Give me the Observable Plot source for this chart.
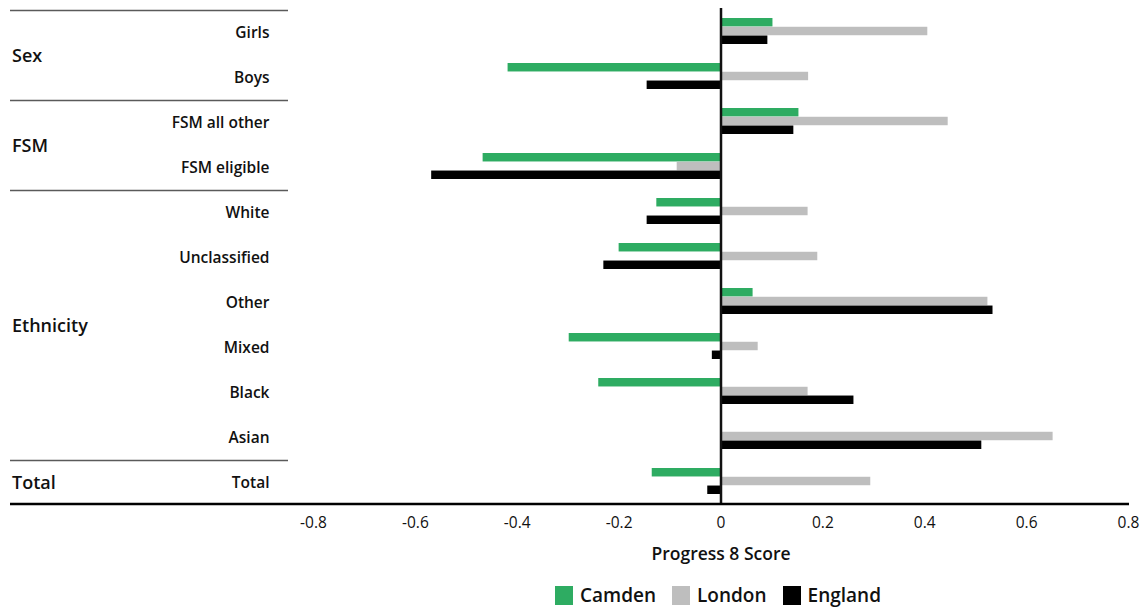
<!DOCTYPE html>
<html>
<head>
<meta charset="utf-8">
<script src="https://cdn.jsdelivr.net/npm/d3@7"></script>
<script src="https://cdn.jsdelivr.net/npm/@observablehq/plot@0.6"></script>
<style>
  html, body { margin: 0; padding: 0; background: #fff; }
  body { width: 1148px; height: 610px; overflow: hidden; font-family: "Open Sans", "Lato", sans-serif; color: #111; }
  #legend { display: flex; align-items: center; margin-left: 555px; margin-top: 16px; font-size: 19px; font-weight: 600; line-height: 19px; }
  #legend .sw { width: 18px; height: 19px; margin-right: 7px; }
  #legend .item { display: flex; align-items: center; margin-right: 16px; }
</style>
</head>
<body>
<div id="chart"></div>
<div id="legend"></div>
<script>
// ---- data ----
const categories = ["Girls", "Boys", "FSM all other", "FSM eligible", "White", "Unclassified", "Other", "Mixed", "Black", "Asian", "Total"];
const camden  = [0.102, -0.418, 0.153, -0.467, -0.126, -0.200, 0.063, -0.298, -0.240, 0.000, -0.135];
const london  = [0.406, 0.172, 0.446, -0.086, 0.171, 0.190, 0.524, 0.073, 0.171, 0.652, 0.294];
const england = [0.092, -0.145, 0.143, -0.568, -0.145, -0.230, 0.534, -0.017, 0.261, 0.512, -0.026];
const groupNames = ["Sex", "FSM", "Ethnicity", "Total"];
const groupMembers = [["Girls", "Boys"], ["FSM all other", "FSM eligible"], ["White", "Unclassified", "Other", "Mixed", "Black", "Asian"], ["Total"]];
const seriesNames = ["Camden", "London", "England"];
const seriesColors = ["#2eac62", "#bebebe", "#000000"];
const xTicks = [-0.8, -0.6, -0.4, -0.2, 0, 0.2, 0.4, 0.6, 0.8];
const xTitle = "Progress 8 Score";

const rows = categories.map((c, i) => ({category: c, Camden: camden[i], London: london[i], England: england[i]}));
const groups = groupNames.map((g, i) => ({name: g, members: groupMembers[i]}));

const bw = 26.3; // band height (px), split among the three series
const third = bw / 3;
const fmt = d => d === 0 ? "0" : d.toFixed(1);

function groupDecor(index, scales, values, dims) {
  const y = scales.y;
  const step = y.step(), b = y.bandwidth();
  const g = d3.create("svg:g");
  groups.forEach(gr => {
    const centers = gr.members.map(m => y(m) + b / 2);
    const top = y(gr.members[0]) + b / 2 - step / 2 + 2;
    g.append("line")
      .attr("x1", 10).attr("x2", 288)
      .attr("y1", top).attr("y2", top)
      .attr("stroke", "#5a5a5a").attr("stroke-width", 1.5);
    g.append("text")
      .attr("x", 12).attr("y", d3.mean(centers))
      .attr("dy", "0.45em")
      .attr("text-anchor", "start")
      .attr("font-size", 18).attr("font-weight", 600)
      .attr("fill", "#111")
      .text(gr.name);
  });
  return g.node();
}

const fontFamily = '"Open Sans", "Lato", sans-serif';

const chart = Plot.plot({
  width: 1148,
  height: 570,
  marginLeft: 313,
  marginRight: 20,
  marginTop: 8,
  marginBottom: 66,
  style: {fontFamily, fontSize: "15px", color: "#111", background: "#fff"},
  x: {domain: [-0.8, 0.8], ticks: xTicks, tickFormat: fmt},
  y: {domain: categories, paddingInner: 0.416, paddingOuter: 0.215},
  marks: [
    Plot.barX(rows, {y: "category", x: "Camden", fill: seriesColors[0], insetBottom: 2 * third}),
    Plot.barX(rows, {y: "category", x: "London", fill: seriesColors[1], insetTop: third, insetBottom: third}),
    Plot.barX(rows, {y: "category", x: "England", fill: seriesColors[2], insetTop: 2 * third}),
    Plot.ruleX([0], {stroke: "#111", strokeWidth: 2.5}),
    Plot.axisY({tickSize: 0, tickPadding: 44, label: null, fontSize: 15.5, fontWeight: 600, dy: 2, fill: "#111"}),
    Plot.axisX({ticks: xTicks, tickSize: 0, tickPadding: 12, label: null, fontSize: 15.5, tickFormat: fmt, fill: "#111"}),
    Plot.text([xTitle], {frameAnchor: "bottom", dy: 55, fontSize: 17.5, fontWeight: 600, fill: "#111"}),
    groupDecor,
    () => {
      const g = d3.create("svg:g");
      g.append("line").attr("x1", 10).attr("x2", 1129).attr("y1", 504).attr("y2", 504)
        .attr("stroke", "#000").attr("stroke-width", 2.5);
      return g.node();
    }
  ]
});
document.getElementById("chart").appendChild(chart);

const legend = d3.select("#legend");
seriesNames.forEach((s, i) => {
  const it = legend.append("div").attr("class", "item");
  it.append("div").attr("class", "sw").style("background", seriesColors[i]);
  it.append("span").text(s);
});
</script>
</body>
</html>
